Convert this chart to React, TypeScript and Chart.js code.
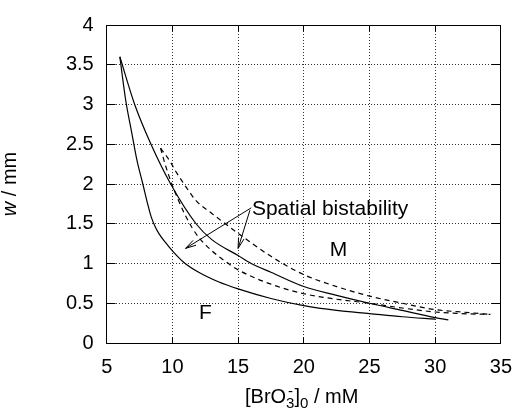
import React, { useEffect, useRef } from 'react';
import { Chart, registerables } from 'chart.js';

Chart.register(...registerables);

const FONT = "'Liberation Sans', Arial, Helvetica, sans-serif";

// Lower solid curve (boundary of F region)
const lowerSolidX = [6, 6.45, 6.9, 7.3, 7.75, 8.1, 8.4, 8.7, 9.0, 9.5, 10, 10.9, 12, 13.5, 15, 17.5, 20, 22.5, 25, 27.5, 30];
const lowerSolidY = [3.6, 3.05, 2.65, 2.3, 2.0, 1.76, 1.58, 1.46, 1.37, 1.26, 1.16, 1.01, 0.89, 0.77, 0.68, 0.56, 0.47, 0.41, 0.37, 0.33, 0.3];

// Upper solid curve
const upperSolidX = [6, 7.13, 8.37, 9.87, 11.8, 13, 15, 16, 17.5, 20, 22.5, 25, 27.5, 30, 31];
const upperSolidY = [3.6, 3.0, 2.5, 2.0, 1.5, 1.3, 1.1, 1.0, 0.89, 0.71, 0.6, 0.5, 0.41, 0.32, 0.29];

// Upper dashed curve
const upperDashX = [9.1, 9.8, 10.25, 10.8, 11.3, 11.8, 13, 15, 17.5, 20, 22.5, 25, 27.5, 30, 32, 34.2];
const upperDashY = [2.45, 2.29, 2.16, 2.02, 1.9, 1.79, 1.63, 1.38, 1.09, 0.86, 0.71, 0.59, 0.5, 0.42, 0.39, 0.36];

// Lower dashed curve
const lowerDashX = [9.1, 9.5, 10, 10.5, 11, 11.5, 12, 13, 14, 15, 17.5, 20, 22.5, 25, 27.5, 30, 32, 34.2];
const lowerDashY = [2.45, 2.22, 1.98, 1.78, 1.6, 1.45, 1.33, 1.16, 1.03, 0.92, 0.74, 0.62, 0.55, 0.5, 0.44, 0.39, 0.37, 0.36];

const xTicks = [5, 10, 15, 20, 25, 30, 35];
const yTicks = [0, 0.5, 1, 1.5, 2, 2.5, 3, 3.5, 4];

// Annotation: arrows [fromX, fromY, toX, toY]
const arrow1 = [16.0, 1.7, 11.0, 1.19];
const arrow2 = [15.9, 1.67, 15.0, 1.19];

const pts = (xs: number[], ys: number[]) => xs.map((x, i) => ({ x, y: ys[i] }));

const align = (p: number) => Math.round(p - 0.5) + 0.5;

const decor = {
  id: 'decor',
  afterDraw(chart: any) {
    const { ctx, chartArea: a, scales } = chart;
    const xs = scales.x;
    const ys = scales.y;
    const L = align(a.left), R = align(a.right), T = align(a.top), B = align(a.bottom);
    ctx.save();
    ctx.strokeStyle = '#000';
    ctx.lineWidth = 1;
    ctx.setLineDash([]);
    // frame
    ctx.beginPath();
    ctx.rect(L, T, R - L, B - T);
    ctx.stroke();
    // inward ticks
    ctx.beginPath();
    xTicks.forEach((v) => {
      const px = align(xs.getPixelForValue(v));
      ctx.moveTo(px, B); ctx.lineTo(px, B - 6);
      ctx.moveTo(px, T); ctx.lineTo(px, T + 6);
    });
    yTicks.forEach((v) => {
      const py = align(ys.getPixelForValue(v));
      ctx.moveTo(L, py); ctx.lineTo(L + 9, py);
      ctx.moveTo(R, py); ctx.lineTo(R - 9, py);
    });
    ctx.stroke();

    // arrows
    const drawArrow = (ar: number[]) => {
      const x1 = xs.getPixelForValue(ar[0]), y1 = ys.getPixelForValue(ar[1]);
      const x2 = xs.getPixelForValue(ar[2]), y2 = ys.getPixelForValue(ar[3]);
      const ang = Math.atan2(y2 - y1, x2 - x1);
      const hl = 11, ha = 0.26;
      ctx.beginPath();
      ctx.moveTo(x1, y1); ctx.lineTo(x2, y2);
      ctx.moveTo(x2 - hl * Math.cos(ang - ha), y2 - hl * Math.sin(ang - ha));
      ctx.lineTo(x2, y2);
      ctx.lineTo(x2 - hl * Math.cos(ang + ha), y2 - hl * Math.sin(ang + ha));
      ctx.stroke();
    };
    drawArrow(arrow1);
    drawArrow(arrow2);

    // text labels
    ctx.fillStyle = '#000';
    ctx.textBaseline = 'alphabetic';
    ctx.font = `21px ${FONT}`;
    ctx.textAlign = 'left';
    ctx.fillText('Spatial bistability', xs.getPixelForValue(16.05), ys.getPixelForValue(1.615));
    ctx.textAlign = 'center';
    ctx.fillText('M', xs.getPixelForValue(22.65), ys.getPixelForValue(1.1));
    ctx.fillText('F', xs.getPixelForValue(12.52), ys.getPixelForValue(0.297));

    // x axis title with sub/superscripts
    ctx.textAlign = 'left';
    const big = `20px ${FONT}`;
    const small = `15px ${FONT}`;
    const baseY = 403;
    let cx = 245;
    ctx.font = big; ctx.fillText('[BrO', cx, baseY); cx += ctx.measureText('[BrO').width;
    ctx.font = small;
    ctx.fillText('-', cx + 2, baseY - 7);
    ctx.fillText('3', cx, baseY + 5);
    cx += ctx.measureText('3').width;
    ctx.font = big; ctx.fillText(']', cx, baseY); cx += ctx.measureText(']').width;
    ctx.font = small; ctx.fillText('0', cx, baseY + 5); cx += ctx.measureText('0').width;
    ctx.font = big; ctx.fillText(' / mM', cx, baseY);

    // y axis title (rotated)
    ctx.save();
    ctx.translate(16, (a.top + a.bottom) / 2);
    ctx.rotate(-Math.PI / 2);
    const itf = `italic 20px ${FONT}`;
    ctx.font = itf;
    const w1 = ctx.measureText('w').width;
    ctx.font = big;
    const w2 = ctx.measureText(' / mm').width;
    let sx = -(w1 + w2) / 2;
    ctx.font = itf; ctx.fillText('w', sx, 0); sx += w1;
    ctx.font = big; ctx.fillText(' / mm', sx, 0);
    ctx.restore();

    ctx.restore();
  },
};

export default function App() {
  const ref = useRef<HTMLCanvasElement>(null);
  useEffect(() => {
    const solid = { borderColor: '#000', borderWidth: 1.2, pointRadius: 0, showLine: true, fill: false, cubicInterpolationMode: 'monotone' as const };
    const dashed = { ...solid, borderDash: [5, 4] };
    const gridCommon = { color: 'rgba(0,0,0,0.8)', lineWidth: 1, drawTicks: false };
    const chart = new Chart(ref.current!, {
      type: 'scatter',
      data: {
        datasets: [
          { ...solid, data: pts(lowerSolidX, lowerSolidY) },
          { ...solid, data: pts(upperSolidX, upperSolidY) },
          { ...dashed, data: pts(upperDashX, upperDashY) },
          { ...dashed, data: pts(lowerDashX, lowerDashY) },
        ],
      },
      options: {
        animation: false,
        responsive: false,
        events: [],
        layout: { padding: { left: 0, top: 20, right: 17.3, bottom: 0 } },
        plugins: { legend: { display: false }, tooltip: { enabled: false } },
        scales: {
          x: {
            type: 'linear',
            min: 5,
            max: 35,
            afterBuildTicks: (s: any) => { s.ticks = xTicks.map((v) => ({ value: v })); },
            afterFit: (s: any) => { s.height = 68; },
            grid: gridCommon,
            border: { display: false, dash: [1, 2] },
            ticks: { color: '#000', font: { family: FONT, size: 20 }, padding: 12, maxRotation: 0, autoSkip: false, callback: (v: any) => String(v) },
          },
          y: {
            type: 'linear',
            min: 0,
            max: 4,
            afterBuildTicks: (s: any) => { s.ticks = yTicks.map((v) => ({ value: v })); },
            afterFit: (s: any) => { s.width = 106.7; },
            grid: gridCommon,
            border: { display: false, dash: [1, 2] },
            ticks: { color: '#000', font: { family: FONT, size: 20 }, padding: 13, autoSkip: false, callback: (v: any) => String(v) },
          },
        },
      },
      plugins: [decor],
    });
    return () => chart.destroy();
  }, []);
  return (
    <div style={{ position: 'fixed', left: 0, top: 0, width: 524, height: 411, background: '#fff' }}>
      <canvas ref={ref} width={524} height={411} style={{ display: 'block', width: 524, height: 411 }} />
    </div>
  );
}
